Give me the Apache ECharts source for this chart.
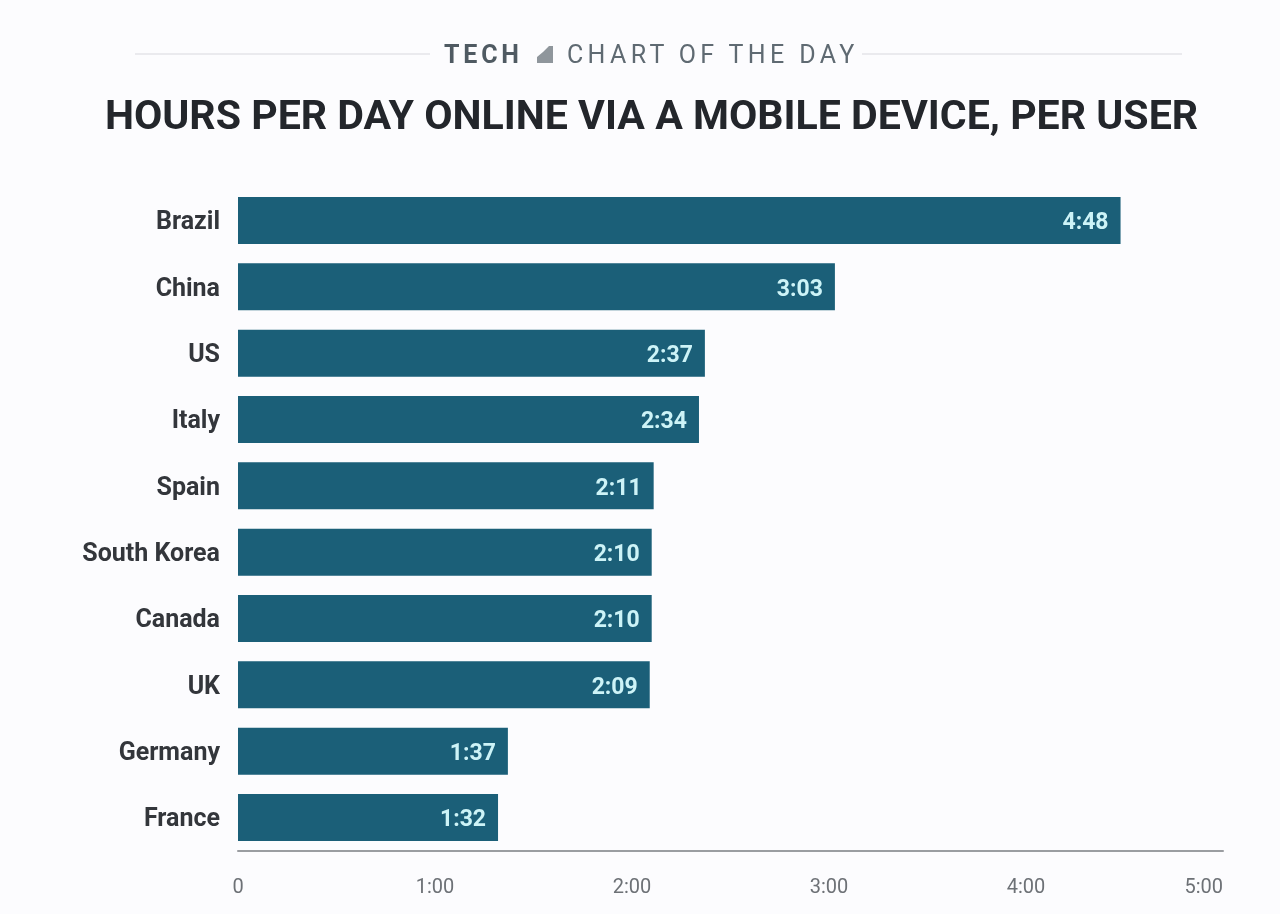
<!DOCTYPE html>
<html><head><meta charset="utf-8">
<style>
html,body{margin:0;padding:0;background:#fcfcfe}
#c{width:1280px;height:914px}
#head{position:absolute;left:444px;top:40px;font-family:Roboto;font-size:25px;line-height:30px;white-space:nowrap}
#head .a{font-weight:700;color:#4f5a62;letter-spacing:3.8px}
#head .b{font-weight:400;color:#5f6a72;letter-spacing:4.35px;position:absolute;left:123px;top:0}
</style>
<script src="https://cdn.jsdelivr.net/npm/echarts@6/dist/echarts.min.js"></script>
</head><body><div id="c"></div>
<div id="head"><span class="a">TECH</span><span class="b">CHART OF THE DAY</span></div>
<script>
const categories = ['Brazil','China','US','Italy','Spain','South Korea','Canada','UK','Germany','France'];
const values = [4.48,3.03,2.37,2.34,2.11,2.10,2.10,2.09,1.37,1.32];
const valueLabels = ['4:48','3:03','2:37','2:34','2:11','2:10','2:10','2:09','1:37','1:32'];
const tickLabels = ['0','1:00','2:00','3:00','4:00','5:00'];
const chart = echarts.init(document.getElementById('c'), null, {renderer:'canvas'});
chart.setOption({
  backgroundColor:'#fcfcfe',
  animation:false,
  textStyle:{fontFamily:'Roboto'},
  title:[
    {text:'HOURS PER DAY ONLINE VIA A MOBILE DEVICE, PER USER',left:646.5,top:93,textAlign:'center',
     textStyle:{fontFamily:'Roboto',fontSize:41.1,fontWeight:700,color:'#23262b'}}
  ],
  graphic:[
    {type:'line',shape:{x1:135,y1:54,x2:430,y2:54},style:{stroke:'#e4e5e8',lineWidth:1.5}},
    {type:'line',shape:{x1:862,y1:54,x2:1182,y2:54},style:{stroke:'#e4e5e8',lineWidth:1.5}},
    {type:'polygon',shape:{points:[[537,63],[537,57],[543,52],[549,46],[553,46],[553,63]]},style:{fill:'#8f969c'}}
  ],
  grid:{left:238,right:57,top:187.3,bottom:63.3,containLabel:false},
  xAxis:{type:'value',min:0,max:5,interval:1,
    axisLine:{show:true,lineStyle:{color:'#9a9da1',width:2}},
    axisTick:{show:false},splitLine:{show:false},
    axisLabel:{margin:27,fontFamily:'Roboto',fontSize:20,color:'#6d7176',alignMaxLabel:'right',
      formatter:(v)=>tickLabels[Math.round(v)]}},
  yAxis:{type:'category',inverse:true,data:categories,
    axisLine:{show:false},axisTick:{show:false},
    axisLabel:{margin:18,fontFamily:'Roboto',fontSize:25,fontWeight:700,color:'#33363b',verticalAlign:'top',lineHeight:5}},
  series:[{type:'bar',data:values,barWidth:47,
    itemStyle:{color:'#1b5f78'},
    label:{show:true,position:'insideRight',distance:12,offset:[0,3],fontFamily:'Roboto',fontSize:23,fontWeight:700,color:'#cdf3f7',
      formatter:(p)=>valueLabels[p.dataIndex]}}]
});
</script></body></html>
